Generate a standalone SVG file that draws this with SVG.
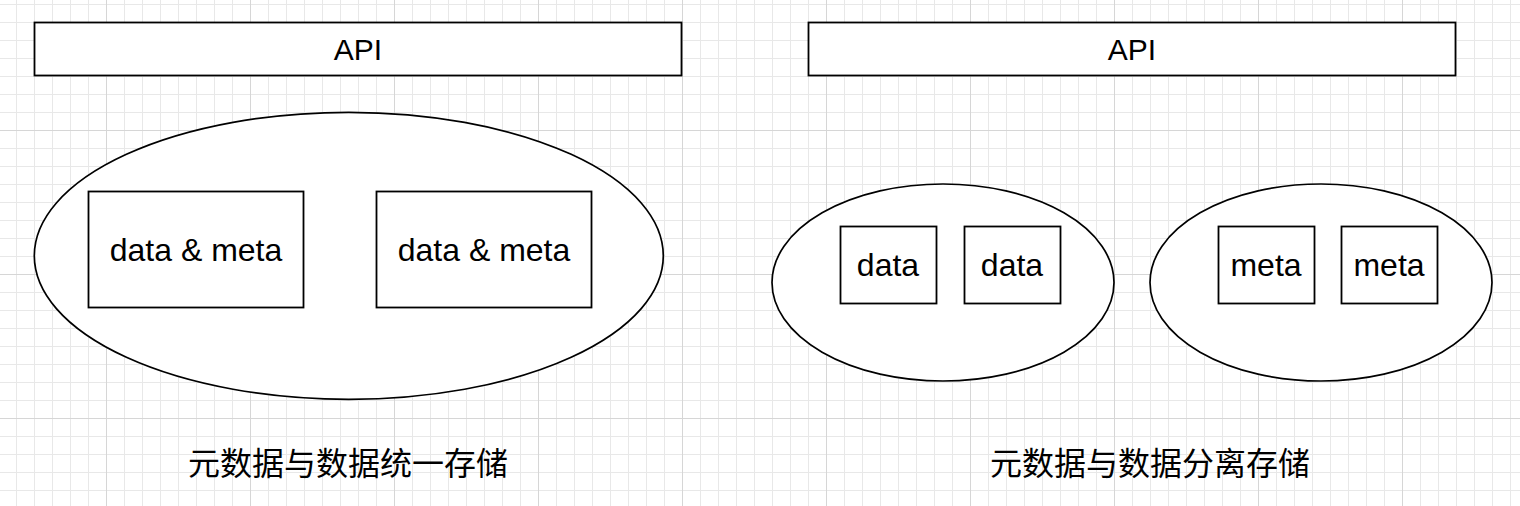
<svg xmlns="http://www.w3.org/2000/svg" width="1520" height="506" viewBox="0 0 1520 506">
<style>
.box{fill:#fff;stroke:#000;stroke-width:1.8}
.ell{fill:#fff;stroke:#000;stroke-width:1.7}
.lbl{font-family:"Liberation Sans",Arial,sans-serif;font-size:30px;fill:#000;text-anchor:middle;dominant-baseline:central}
.in{font-size:32px}
.cap{font-family:"Liberation Sans","Noto Sans CJK SC",sans-serif;font-size:32px;fill:#000;text-anchor:middle;dominant-baseline:central}
</style>
<defs>
<pattern id="grid" patternUnits="userSpaceOnUse" x="-38" y="-14" width="144" height="144">
<g fill="#e8e8e8">
<rect x="18" y="0" width="1" height="144"/><rect x="36" y="0" width="1" height="144"/><rect x="54" y="0" width="1" height="144"/><rect x="72" y="0" width="1" height="144"/><rect x="90" y="0" width="1" height="144"/><rect x="108" y="0" width="1" height="144"/><rect x="126" y="0" width="1" height="144"/>
<rect y="18" x="0" height="1" width="144"/><rect y="36" x="0" height="1" width="144"/><rect y="54" x="0" height="1" width="144"/><rect y="72" x="0" height="1" width="144"/><rect y="90" x="0" height="1" width="144"/><rect y="108" x="0" height="1" width="144"/><rect y="126" x="0" height="1" width="144"/>
</g>
<g fill="#d6d6d6">
<rect x="0" y="0" width="1" height="144"/><rect x="0" y="0" width="144" height="1"/>
</g>
</pattern>
</defs>
<rect width="1520" height="506" fill="#fff"/>
<rect width="1520" height="506" fill="url(#grid)"/>
<g id="api-left"><rect class="box" x="34.5" y="22.5" width="647" height="53"/><text class="lbl" x="358" y="49">API</text></g>
<g id="api-right"><rect class="box" x="808.5" y="22.5" width="647" height="53"/><text class="lbl" x="1132" y="49">API</text></g>
<g id="store-unified"><ellipse class="ell" cx="348.8" cy="255.8" rx="314.5" ry="143.5"/></g>
<g id="dm1"><rect class="box" x="88.5" y="191.5" width="215" height="116"/><text class="lbl in" x="196" y="250">data &amp; meta</text></g>
<g id="dm2"><rect class="box" x="376.5" y="191.5" width="215" height="116"/><text class="lbl in" x="484" y="250">data &amp; meta</text></g>
<g id="store-data"><ellipse class="ell" cx="943" cy="282.5" rx="171" ry="98.5"/></g>
<g id="store-meta"><ellipse class="ell" cx="1321" cy="282.5" rx="171" ry="98.5"/></g>
<g id="data1"><rect class="box" x="840.5" y="226.5" width="96" height="77"/><text class="lbl in" x="888" y="265">data</text></g>
<g id="data2"><rect class="box" x="964.5" y="226.5" width="96" height="77"/><text class="lbl in" x="1012" y="265">data</text></g>
<g id="meta1"><rect class="box" x="1218.5" y="226.5" width="96" height="77"/><text class="lbl in" x="1266" y="265">meta</text></g>
<g id="meta2"><rect class="box" x="1341.5" y="226.5" width="96" height="77"/><text class="lbl in" x="1389" y="265">meta</text></g>
<g id="connectors"></g>
<g id="cap-left"><text class="cap" x="348" y="464">元数据与数据统一存储</text></g>
<g id="cap-right"><text class="cap" x="1150" y="464">元数据与数据分离存储</text></g>
</svg>
